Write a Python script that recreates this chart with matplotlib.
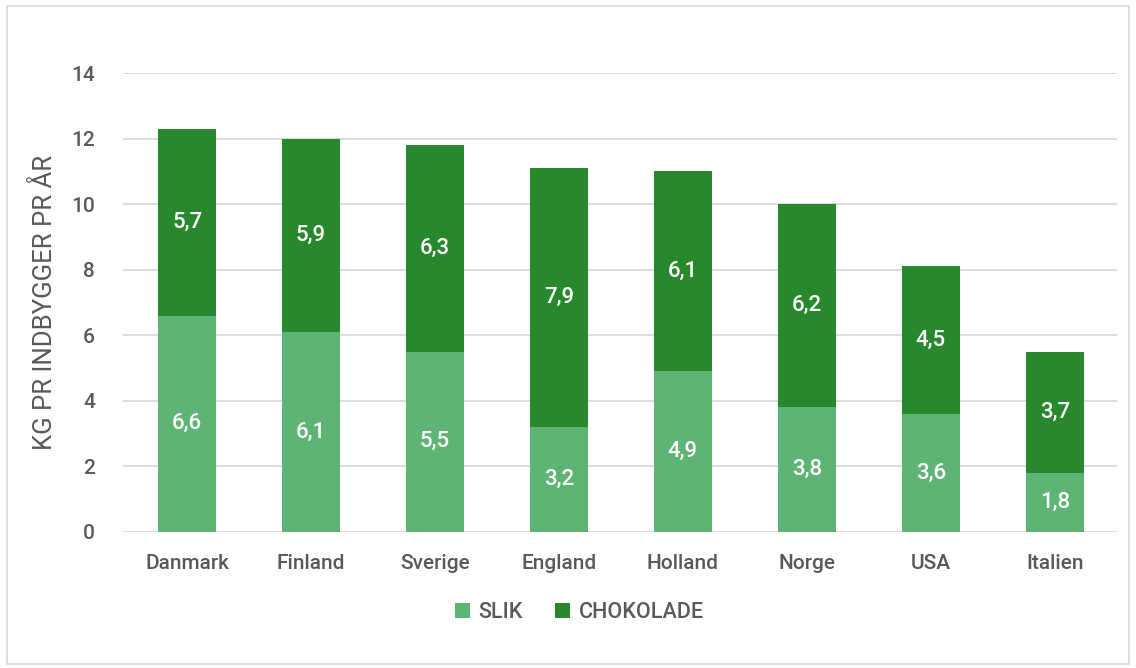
import numpy as np
import matplotlib.pyplot as plt
from matplotlib.patches import Rectangle

countries = ["Danmark", "Finland", "Sverige", "England", "Holland", "Norge", "USA", "Italien"]
slik = [6.6, 6.1, 5.5, 3.2, 4.9, 3.8, 3.6, 1.8]
chokolade = [5.7, 5.9, 6.3, 7.9, 6.1, 6.2, 4.5, 3.7]

light = "#5db475"
dark = "#27882e"
txt = "#595959"

plt.rcParams['font.family'] = ['Roboto', 'DejaVu Sans']
plt.rcParams['font.weight'] = 'medium'

fig = plt.figure(figsize=(11.36, 6.68), dpi=100)
ax = fig.add_axes([0.108, 0.2036, 0.875, 0.6871])

x = np.arange(len(countries))
w = 0.47
b1 = ax.bar(x, slik, width=w, color=light, label="SLIK", zorder=3)
b2 = ax.bar(x, chokolade, width=w, bottom=slik, color=dark, label="CHOKOLADE", zorder=3)

for i in range(len(countries)):
    ax.text(x[i], slik[i] / 2, f"{slik[i]:.1f}".replace(".", ","), ha="center", va="center",
            color="white", fontsize=16, zorder=4)
    ax.text(x[i], slik[i] + chokolade[i] / 2, f"{chokolade[i]:.1f}".replace(".", ","),
            ha="center", va="center", color="white", fontsize=16, zorder=4)

ax.set_xlim(-0.52, 7.5)
ax.set_ylim(0, 14)
ax.set_yticks(range(0, 15, 2))
ax.yaxis.grid(True, color="#d9d9d9", linewidth=1.3, zorder=0)
ax.set_xticks(x)
ax.set_xticklabels(countries)
ax.tick_params(axis="both", length=0, labelsize=15, colors=txt)
ax.tick_params(axis="x", pad=16)
ax.tick_params(axis="y", pad=20)
for s in ax.spines.values():
    s.set_visible(False)
ax.set_ylabel("KG PR INDBYGGER PR ÅR", fontsize=18.5, color=txt, labelpad=10)

leg = fig.legend(handles=[b1, b2], loc="center", bbox_to_anchor=(0.51, 0.083), ncol=2,
                 frameon=False, fontsize=15.5, handlelength=0.7, handleheight=0.7,
                 columnspacing=1.5, handletextpad=0.4)
for t in leg.get_texts():
    t.set_color(txt)

fig.patches.append(Rectangle((0.006, 0.006), 0.988, 0.985, transform=fig.transFigure,
                             fill=False, edgecolor="#d9d9d9", linewidth=1.2))

fig.savefig("out.png", dpi=100)
